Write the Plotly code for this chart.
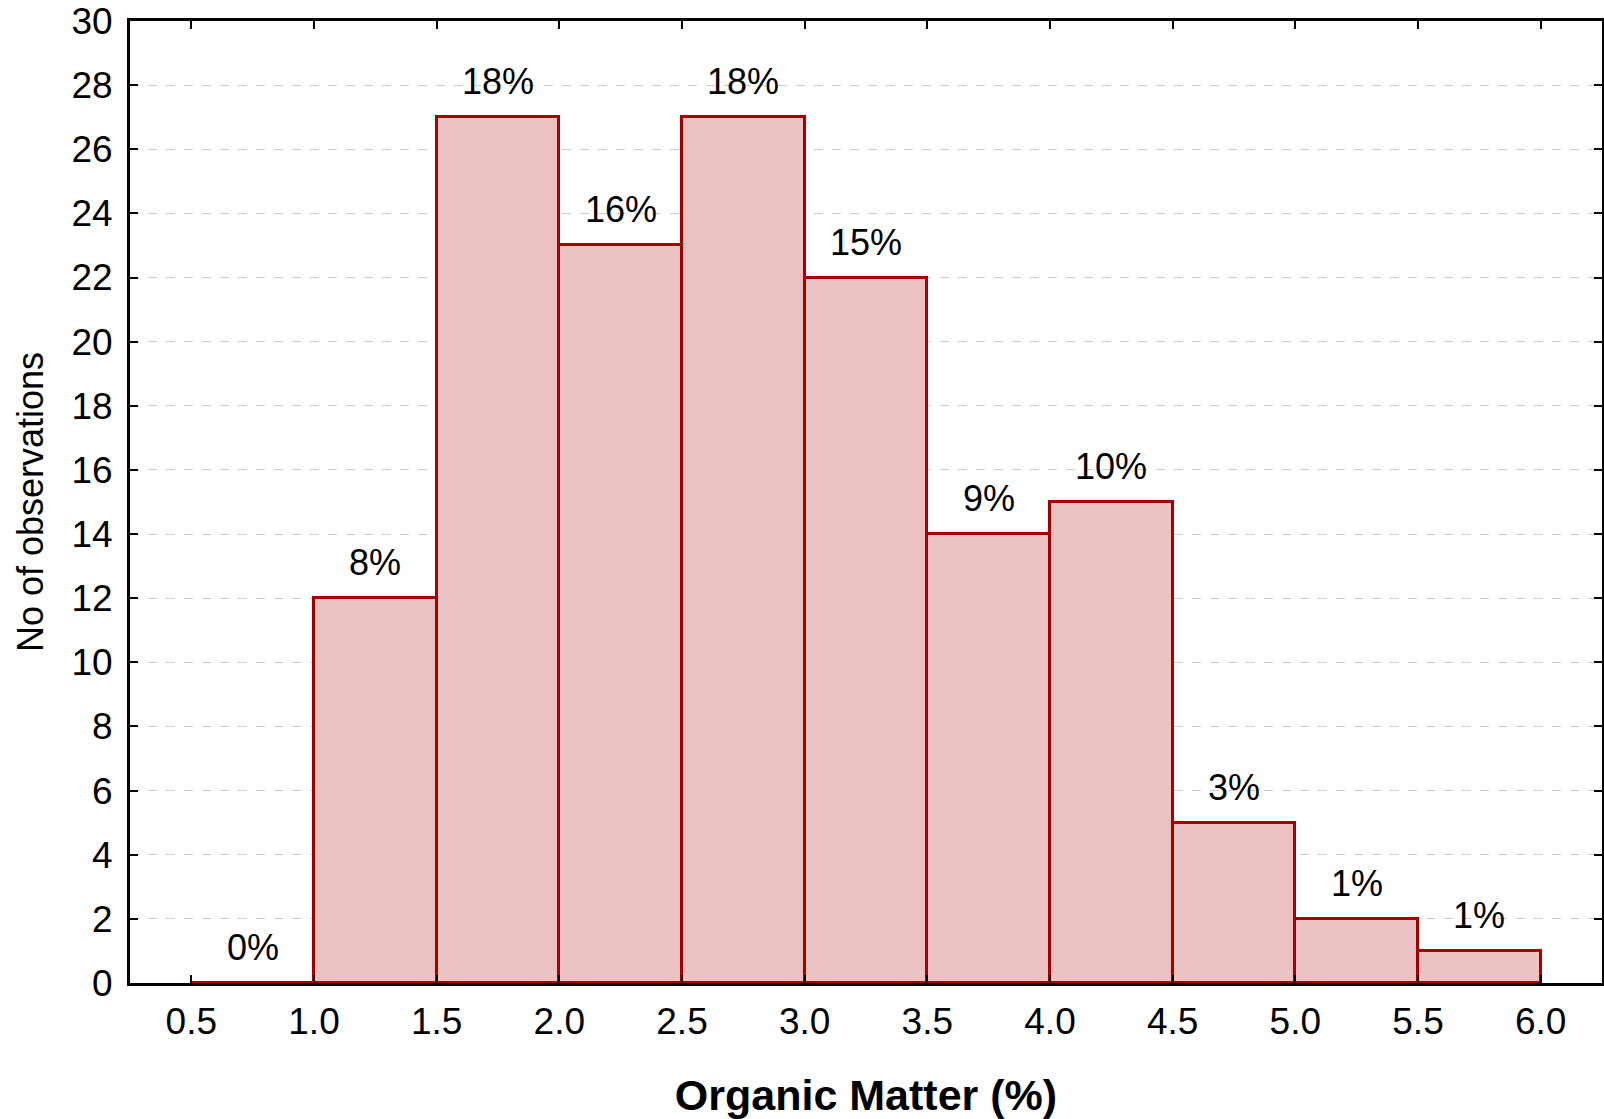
import plotly.graph_objects as go

bin_left = [0.5, 1.0, 1.5, 2.0, 2.5, 3.0, 3.5, 4.0, 4.5, 5.0, 5.5]
bin_width = 0.5
counts = [0, 12, 27, 23, 27, 22, 14, 15, 5, 2, 1]
pct_labels = ["0%", "8%", "18%", "16%", "18%", "15%", "9%", "10%", "3%", "1%", "1%"]
x_ticks = [0.5, 1.0, 1.5, 2.0, 2.5, 3.0, 3.5, 4.0, 4.5, 5.0, 5.5, 6.0]
y_ticks = list(range(0, 31, 2))

centers = [b + bin_width / 2 for b in bin_left]
FONT = "Liberation Sans, Arial, sans-serif"

fig = go.Figure()
fig.add_trace(go.Bar(
    x=centers, y=counts, width=bin_width,
    marker=dict(color="#ebc2c4", line=dict(color="#a80000", width=3)),
    showlegend=False, hoverinfo="skip",
))

for cx, cy, lab in zip(centers, counts, pct_labels):
    fig.add_annotation(
        x=cx, y=cy, text=lab, showarrow=False,
        xanchor="center", yanchor="bottom", yshift=13,
        font=dict(family=FONT, size=36, color="black"),
    )

fig.update_layout(
    width=1604, height=1119,
    margin=dict(l=130, r=2, t=21, b=136),
    paper_bgcolor="white", plot_bgcolor="white",
    font=dict(family=FONT, size=37, color="black"),
    bargap=0,
)
fig.update_xaxes(
    range=[0.25, 6.25], tickvals=x_ticks,
    ticktext=[f"{v:.1f}" for v in x_ticks],
    ticks="inside", ticklen=8, tickwidth=2, tickcolor="black",
    showline=True, linecolor="black", linewidth=3, mirror="ticks",
    showgrid=False, zeroline=False, automargin=False,
    ticklabelstandoff=4,
    title=dict(text="<b>Organic Matter (%)</b>", font=dict(size=43, family=FONT), standoff=41),
)
fig.update_yaxes(
    range=[0, 30], tickvals=y_ticks,
    ticks="inside", ticklen=8, tickwidth=2, tickcolor="black",
    showline=True, linecolor="black", linewidth=3, mirror="ticks",
    showgrid=True, gridcolor="#cccccc", gridwidth=1, griddash="dash",
    zeroline=False, automargin=False,
    ticklabelstandoff=7,
    title=dict(text="No of observations", font=dict(size=36, family=FONT), standoff=17),
)

fig.write_html("out.html", config={"displayModeBar": False},
               post_script="document.body.style.margin='0';")
